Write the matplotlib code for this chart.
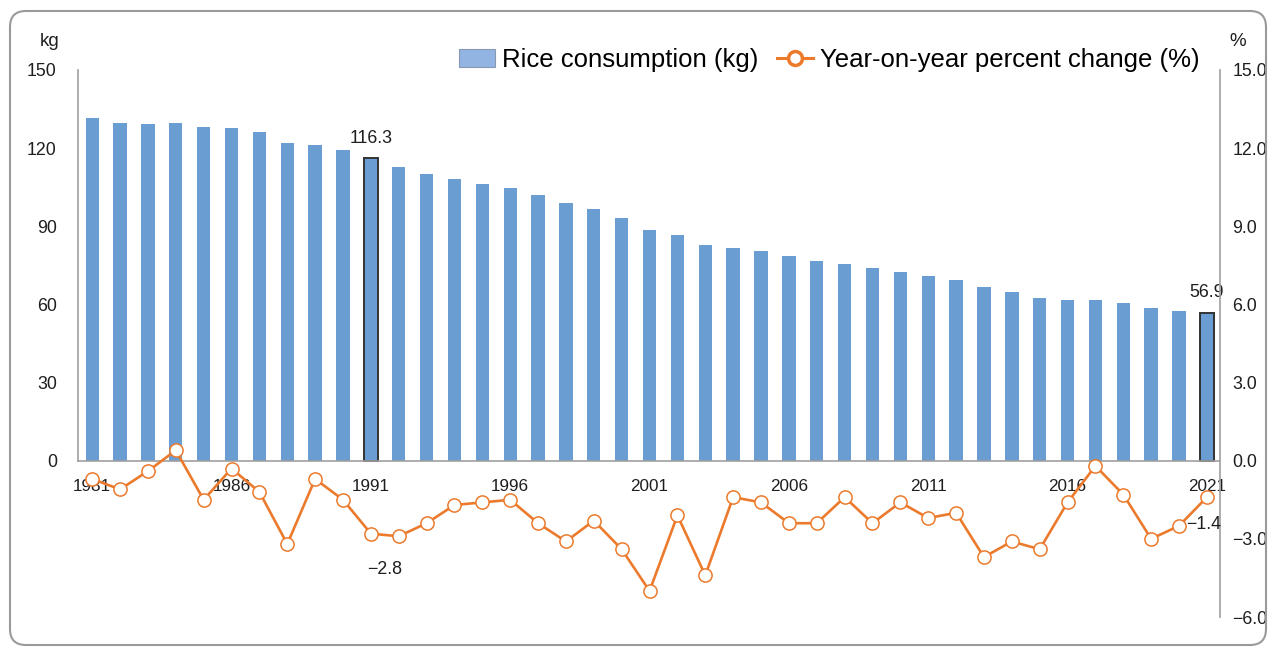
import matplotlib
matplotlib.use("Agg")
import matplotlib.pyplot as plt
from matplotlib.patches import FancyBboxPatch, Patch
from matplotlib.lines import Line2D
from matplotlib.transforms import IdentityTransform
from matplotlib.ticker import FuncFormatter

plt.rcParams['font.family'] = ['Liberation Sans', 'DejaVu Sans']

years = list(range(1981, 2022))
consumption = [131.4, 129.8, 129.3, 129.8, 128.0, 127.6, 126.1, 121.9, 121.2, 119.4,
               116.3, 112.6, 110.1, 108.1, 106.4, 104.6, 102.2, 99.0, 96.7, 93.3,
               88.6, 86.6, 82.9, 81.7, 80.4, 78.5, 76.5, 75.5, 73.8, 72.4,
               71.1, 69.4, 66.7, 64.8, 62.6, 61.6, 61.6, 60.7, 58.8, 57.5, 56.9]
pct_change = [-0.7, -1.1, -0.4, 0.4, -1.5, -0.3, -1.2, -3.2, -0.7, -1.5,
              -2.8, -2.9, -2.4, -1.7, -1.6, -1.5, -2.4, -3.1, -2.3, -3.4,
              -5.0, -2.1, -4.4, -1.4, -1.6, -2.4, -2.4, -1.4, -2.4, -1.6,
              -2.2, -2.0, -3.7, -3.1, -3.4, -1.6, -0.2, -1.3, -3.0, -2.5, -1.4]
year_ticks = [1981, 1986, 1991, 1996, 2001, 2006, 2011, 2016, 2021]
left_ticks = [0, 30, 60, 90, 120, 150]
right_ticks = [-6, -3, 0, 3, 6, 9, 12, 15]
highlight_years = [1991, 2021]
bar_labels = {1991: "116.3", 2021: "56.9"}
line_labels = {1991: "\u22122.8", 2021: "\u22121.4"}

bar_color = "#6A9ED3"
line_color = "#EC7A2C"
grey = "#A0A0A0"
text_color = "#1E1E1E"

W, H = 1276, 649
fig = plt.figure(figsize=(W / 100, H / 100), dpi=100)
fig.patch.set_facecolor("white")

left, right, bottom, top = 77.7 / W, 1220 / W, (H - 617) / H, (H - 70) / H
ax = fig.add_axes([left, bottom, right - left, top - bottom])
ax2 = ax.twinx()

edges = ["#333333" if y in highlight_years else bar_color for y in years]
lws = [1.4 if y in highlight_years else 0 for y in years]
ax.bar(years, consumption, width=0.48, color=bar_color, edgecolor=edges, linewidth=lws, zorder=2)

ax.set_xlim(1980.48, 2021.47)
ax.set_ylim(-60, 150)
ax.set_yticks(left_ticks)
ax.set_xticks(year_ticks)
ax.set_xticklabels([str(y) for y in year_ticks])
ax.tick_params(axis='y', length=0, pad=15, labelsize=12.8, colors=text_color)
ax.tick_params(axis='x', length=0, pad=13, labelsize=12.3, colors=text_color)
for s in ["top", "right"]:
    ax.spines[s].set_visible(False)
ax.spines["bottom"].set_position(("data", 0))
ax.spines["bottom"].set_color(grey)
ax.spines["bottom"].set_linewidth(1.2)
ax.spines["left"].set_bounds(0, 150)
ax.spines["left"].set_color(grey)
ax.spines["left"].set_linewidth(1.2)

for y, txt in bar_labels.items():
    v = consumption[years.index(y)]
    ax.annotate(txt, (y, v), xytext=(0, 8), textcoords="offset points",
                ha="center", va="bottom", fontsize=12.8, color=text_color)

ax2.plot(years, pct_change, color=line_color, lw=1.9, marker="o", markersize=9.5,
         markerfacecolor="white", markeredgecolor=line_color, markeredgewidth=1.1, zorder=3)
ax2.set_ylim(-6, 15)
ax2.set_yticks(right_ticks)
ax2.yaxis.set_major_formatter(FuncFormatter(lambda v, p: f"{v:.1f}".replace("-", "\u2212")))
ax2.tick_params(axis='y', length=0, pad=9, labelsize=12.8, colors=text_color)
for s in ["top", "left", "bottom"]:
    ax2.spines[s].set_visible(False)
ax2.spines["right"].set_color(grey)
ax2.spines["right"].set_linewidth(1.2)

ax2.annotate(line_labels[1991], (1991, pct_change[years.index(1991)]), xytext=(10, -26),
             textcoords="offset points", ha="center", va="center", fontsize=12.8, color=text_color)
ax2.annotate(line_labels[2021], (2021, pct_change[years.index(2021)]), xytext=(-2, -20),
             textcoords="offset points", ha="center", va="center", fontsize=12.8, color=text_color)

fig.text(50 / W, 1 - 42 / H, "kg", ha="center", va="center", fontsize=13.5, color=text_color)
fig.text(1238 / W, 1 - 42 / H, "%", ha="center", va="center", fontsize=13.5, color=text_color)

handles = [Patch(facecolor="#92B4E3", edgecolor="#8898B0", linewidth=0.8),
           Line2D([], [], color=line_color, lw=2.2, marker="o", markersize=10,
                  markerfacecolor="white", markeredgecolor=line_color, markeredgewidth=2.5)]
fig.legend(handles, ["Rice consumption (kg)", "Year-on-year percent change (%)"],
           loc="center right", bbox_to_anchor=(1200 / W, 1 - 60 / H), ncol=2, frameon=False,
           fontsize=18.5, handlelength=1.4, handleheight=0.7, handletextpad=0.3,
           columnspacing=0.7, borderpad=0, borderaxespad=0)

frame = FancyBboxPatch((10, 4), 1256, 634, boxstyle="round,pad=0,rounding_size=16",
                       transform=IdentityTransform(), facecolor="none",
                       edgecolor="#9A9A9A", linewidth=1.5)
fig.add_artist(frame)

fig.savefig("out.png", dpi=100, facecolor="white")
